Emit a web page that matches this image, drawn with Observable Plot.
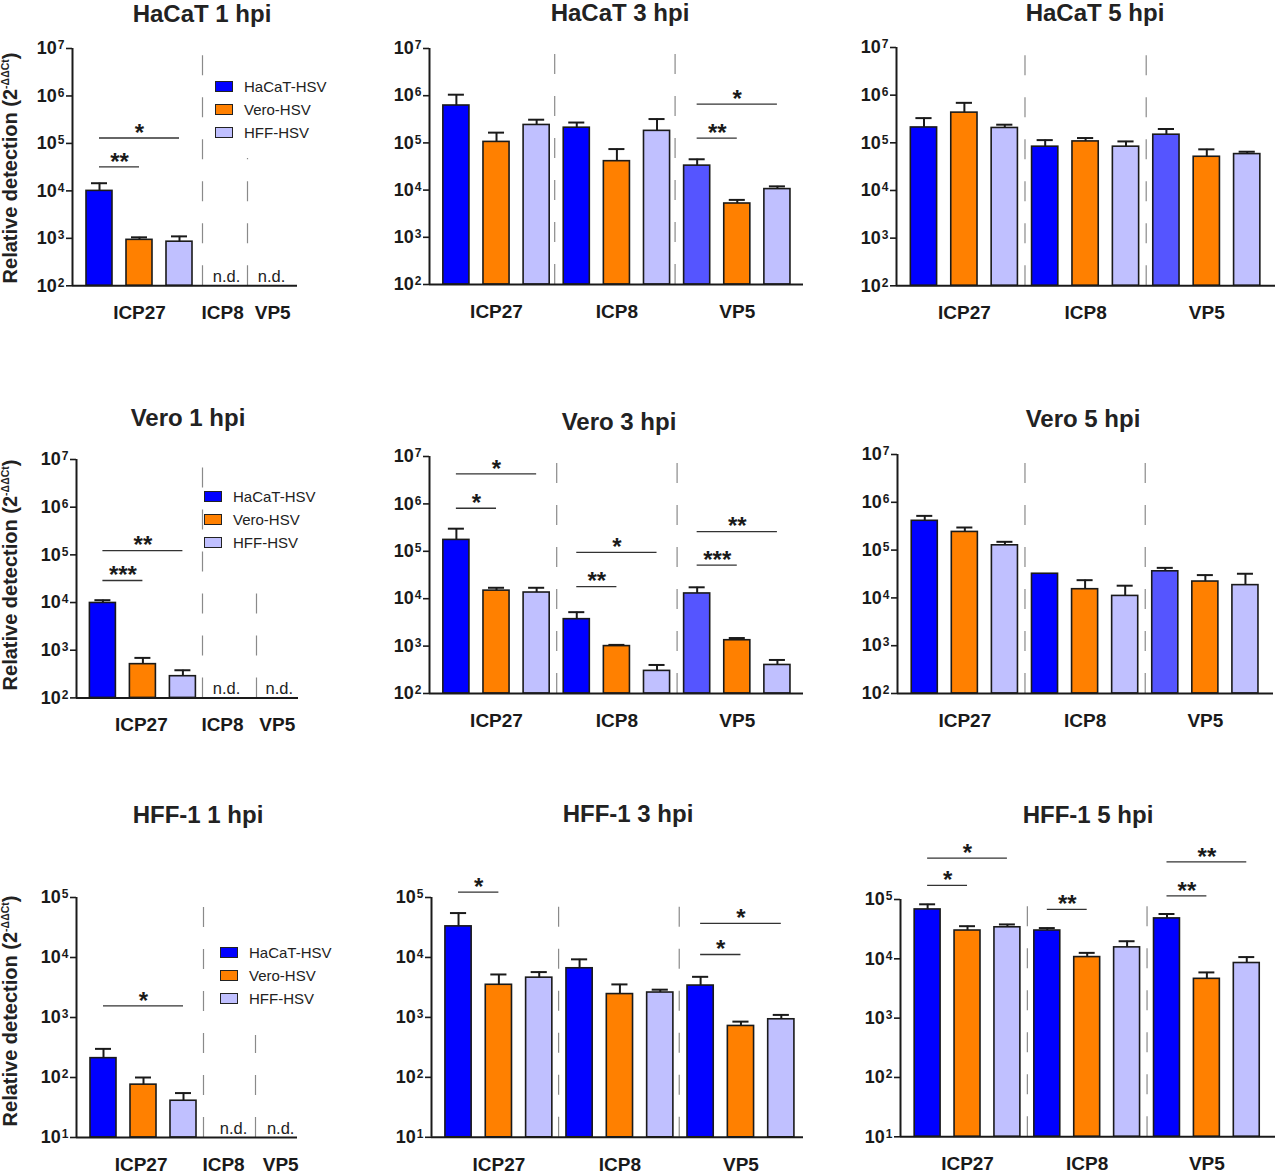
<!DOCTYPE html>
<html><head><meta charset="utf-8">
<script src="https://cdn.jsdelivr.net/npm/d3@7"></script>
<script src="https://cdn.jsdelivr.net/npm/@observablehq/plot@0.6"></script>
<style>
body{margin:0;background:#fff;font-family:"Liberation Sans",Arial,sans-serif;}
#root{position:relative;width:1280px;height:1174px;overflow:hidden;background:#fff}
.panel{position:absolute}
.panel svg{overflow:visible}
.title{position:absolute;font-weight:bold;font-size:24px;color:#222;transform:translate(-50%,-50%);white-space:nowrap}
.ylab{position:absolute;font-weight:bold;font-size:20px;color:#222;transform:translate(-50%,-50%) rotate(-90deg);white-space:nowrap}
.ylab sup{font-size:10.5px;vertical-align:8px}
.legend{position:absolute;font-size:15px;color:#222;background:#fff;padding-right:4px}
.legend .row{display:flex;align-items:center;height:23px;white-space:nowrap}
.legend .sw{display:inline-block;width:16px;height:9px;border:1.4px solid #222;margin-right:11px}
</style></head><body><div id="root"></div><script>
// ---------- data ----------
const genes = ["ICP27", "ICP8", "VP5"];
const strains = ["HaCaT-HSV", "Vero-HSV", "HFF-HSV"];
const strainColors = ["#0000ff", "#ff8000", "#c0c0ff"];
const lighterVP5Colour = "#5555ff";
const lighterVP5Panels = ["HaCaT 3 hpi", "HaCaT 5 hpi", "Vero 3 hpi", "Vero 5 hpi"];
const panelTitles = ["HaCaT 1 hpi", "HaCaT 3 hpi", "HaCaT 5 hpi",
                     "Vero 1 hpi", "Vero 3 hpi", "Vero 5 hpi",
                     "HFF-1 1 hpi", "HFF-1 3 hpi", "HFF-1 5 hpi"];
const yTicksHigh = [1e2, 1e3, 1e4, 1e5, 1e6, 1e7];
const yTicksLow = [1e1, 1e2, 1e3, 1e4, 1e5];
const yLabelMain = "Relative detection (2";
const yLabelSup = "-ΔΔCt";
const notDetected = "n.d.";

// order: ICP27 (HaCaT, Vero, HFF), ICP8 (HaCaT, Vero, HFF), VP5 (HaCaT, Vero, HFF); null = n.d.
const meanHaCaT1 = [1.0e4, 930, 850, null, null, null, null, null, null];
const errHaCaT1  = [1.45e4, 1050, 1100, null, null, null, null, null, null];
const sigHaCaT1  = [["ICP27", "Vero-HSV", 3.2e4, "**"], ["ICP27", "HFF-HSV", 1.3e5, "*"]];

const meanHaCaT3 = [6.2e5, 1.05e5, 2.4e5, 2.1e5, 4.1e4, 1.8e5, 3.3e4, 5.2e3, 1.05e4];
const errHaCaT3  = [1.05e6, 1.65e5, 3.1e5, 2.7e5, 7.4e4, 3.2e5, 4.5e4, 6.2e3, 1.2e4];
const sigHaCaT3  = [["VP5", "Vero-HSV", 1.26e5, "**"], ["VP5", "HFF-HSV", 6.6e5, "*"]];

const meanHaCaT5 = [2.1e5, 4.3e5, 2.05e5, 8.3e4, 1.07e5, 8.3e4, 1.48e5, 5.1e4, 5.8e4];
const errHaCaT5  = [3.3e5, 6.9e5, 2.4e5, 1.14e5, 1.26e5, 1.07e5, 1.95e5, 7.3e4, 6.5e4];
const sigHaCaT5  = [];

const meanVero1 = [9.8e3, 510, 285, null, null, null, null, null, null];
const errVero1  = [1.12e4, 690, 380, null, null, null, null, null, null];
const sigVero1  = [["ICP27", "Vero-HSV", 2.9e4, "***"], ["ICP27", "HFF-HSV", 1.23e5, "**"]];

const meanVero3 = [1.74e5, 1.48e4, 1.35e4, 3.7e3, 1.0e3, 300, 1.29e4, 1.33e3, 400];
const errVero3  = [3.0e5, 1.7e4, 1.7e4, 5.2e3, 1.06e3, 400, 1.74e4, 1.48e3, 510];
const sigVero3  = [["ICP27", "Vero-HSV", 8.1e5, "*"], ["ICP27", "HFF-HSV", 4.3e6, "*"],
                   ["ICP8", "Vero-HSV", 1.8e4, "**"], ["ICP8", "HFF-HSV", 9.5e4, "*"],
                   ["VP5", "Vero-HSV", 5.1e4, "***"], ["VP5", "HFF-HSV", 2.6e5, "**"]];

const meanVero5 = [4.1e5, 2.4e5, 1.26e5, 3.2e4, 1.52e4, 1.1e4, 3.6e4, 2.2e4, 1.85e4];
const errVero5  = [5.2e5, 2.97e5, 1.49e5, 3.2e4, 2.35e4, 1.8e4, 4.25e4, 3.0e4, 3.2e4];
const sigVero5  = [];

const meanHFF1 = [210, 76, 41, null, null, null, null, null, null];
const errHFF1  = [300, 100, 55, null, null, null, null, null, null];
const sigHFF1  = [["ICP27", "HFF-HSV", 1.56e3, "*"]];

const meanHFF3 = [3.3e4, 3.5e3, 4.6e3, 6.6e3, 2.45e3, 2.6e3, 3.4e3, 720, 930];
const errHFF3  = [5.5e4, 5.2e3, 5.7e3, 9.3e3, 3.55e3, 2.9e3, 4.75e3, 850, 1.1e3];
const sigHFF3  = [["ICP27", "Vero-HSV", 1.23e5, "*"], ["VP5", "Vero-HSV", 1.12e4, "*"], ["VP5", "HFF-HSV", 3.7e4, "*"]];

const meanHFF5 = [6.8e4, 3.0e4, 3.4e4, 3.0e4, 1.07e4, 1.56e4, 4.8e4, 4.6e3, 8.5e3];
const errHFF5  = [8.3e4, 3.55e4, 3.8e4, 3.3e4, 1.26e4, 1.98e4, 5.7e4, 5.9e3, 1.07e4];
const sigHFF5  = [["ICP27", "Vero-HSV", 1.73e5, "*"], ["ICP27", "HFF-HSV", 5.0e5, "*"],
                  ["ICP8", "Vero-HSV", 6.8e4, "**"],
                  ["VP5", "Vero-HSV", 1.15e5, "**"], ["VP5", "HFF-HSV", 4.3e5, "**"]];

const panelMeans = [meanHaCaT1, meanHaCaT3, meanHaCaT5, meanVero1, meanVero3, meanVero5, meanHFF1, meanHFF3, meanHFF5];
const panelErrs  = [errHaCaT1, errHaCaT3, errHaCaT5, errVero1, errVero3, errVero5, errHFF1, errHFF3, errHFF5];
const panelSigs  = [sigHaCaT1, sigHaCaT3, sigHaCaT5, sigVero1, sigVero3, sigVero5, sigHFF1, sigHFF3, sigHFF5];

// ---------- layout (positions only) ----------
const layout = [
  {ax: 72,  ex: 297,  ty: 47.7,  by: 285,   dom: [-0.675, 4.95], seps: [2.575, 3.7], lab: [1, 3.08, 4.33], nd: [3.175, 4.3], tx: 202, tyc: 14, legend: [215, 87, 158]},
  {ax: 429, ex: 803,  ty: 48,    by: 284,   dom: [-0.67, 8.65],  seps: [2.45, 5.45], lab: [1, 4, 7], tx: 620, tyc: 13},
  {ax: 896, ex: 1275, ty: 46.7,  by: 285,   dom: [-0.68, 8.7],   seps: [2.5, 5.5],   lab: [1, 4, 7], tx: 1095, tyc: 13},
  {ax: 76,  ex: 298,  ty: 459.3, by: 697.7, dom: [-0.66, 4.89],  seps: [2.49, 3.84], lab: [0.96, 2.99, 4.36], nd: [3.09, 4.41], tx: 188, tyc: 418, legend: [204, 497, 575]},
  {ax: 429, ex: 803,  ty: 456,   by: 693,   dom: [-0.67, 8.65],  seps: [2.5, 5.5],   lab: [1, 4, 7], tx: 619, tyc: 422},
  {ax: 897, ex: 1273, ty: 454,   by: 693,   dom: [-0.68, 8.7],   seps: [2.5, 5.5],   lab: [1, 4, 7], tx: 1083, tyc: 419},
  {ax: 76,  ex: 297,  ty: 896.7, by: 1136.7,dom: [-0.675, 4.85], seps: [2.5, 3.8],   lab: [0.94, 3.0, 4.43], nd: [3.25, 4.43], tx: 198, tyc: 815, legend: [220, 953, 1035]},
  {ax: 431, ex: 803,  ty: 896.7, by: 1136.5,dom: [-0.67, 8.55],  seps: [2.48, 5.47], lab: [1, 4, 7], tx: 628, tyc: 814},
  {ax: 900, ex: 1275, ty: 898.7, by: 1136,  dom: [-0.68, 8.72],  seps: [2.5, 5.5],   lab: [1, 4, 7], tx: 1088, tyc: 815},
];
const yLabelCentres = [168, 575, 1011];

const ML = 70, MR = 4, MT = 70, MB = 45;
const ink = "#1a1a1a";
const font = "'Liberation Sans', Arial, sans-serif";
const supDigits = "⁰¹²³⁴⁵⁶⁷⁸⁹";
const svgNS = "http://www.w3.org/2000/svg";
const root = document.getElementById("root");

panelTitles.forEach((title, p) => {
  const L = layout[p];
  const means = panelMeans[p], errs = panelErrs[p];
  const ticks = p >= 6 ? yTicksLow : yTicksHigh;
  const yMin = ticks[0], yMax = ticks[ticks.length - 1];
  const rows = [];
  means.forEach((m, k) => {
    if (m == null) return;
    const g = Math.floor(k / 3), s = k % 3;
    let color = strainColors[s];
    if (g === 2 && s === 0 && lighterVP5Panels.includes(title)) color = lighterVP5Colour;
    rows.push({gene: genes[g], strain: strains[s], slot: g * 3 + s, mean: m, err: errs[k], color});
  });
  const ndRows = [];
  genes.forEach((g, gi) => {
    const vals = means.slice(gi * 3, gi * 3 + 3);
    if (vals.every(v => v == null)) ndRows.push({gene: g, x: L.nd[gi - 1]});
  });
  const sigRows = panelSigs[p].map(([g, s, y, label]) => {
    const gi = genes.indexOf(g);
    return {x1: gi * 3, x2: gi * 3 + strains.indexOf(s), y, label};
  });

  const width = (L.ex - L.ax) + ML + MR;
  const height = (L.by - L.ty) + MT + MB;
  const chart = Plot.plot({
    width, height,
    marginLeft: ML, marginRight: MR, marginTop: MT, marginBottom: MB,
    x: {type: "linear", domain: L.dom, axis: null},
    y: {type: "log", domain: [yMin, yMax], axis: null},
    style: {fontFamily: font, color: ink, background: "transparent", overflow: "visible"},
    marks: [
      Plot.ruleX(L.seps, {x: d => d, y1: yMin, y2: yMax, stroke: "#8a8a8a", strokeWidth: 1.2, strokeDasharray: "20,22"}),
      Plot.rectY(rows, {x1: d => d.slot - 0.325, x2: d => d.slot + 0.325, y1: yMin, y2: "mean", fill: "color", stroke: ink, strokeWidth: 1.6}),
      Plot.ruleX(rows.filter(d => d.err > d.mean), {x: "slot", y1: "mean", y2: "err", stroke: ink, strokeWidth: 2}),
      Plot.ruleY(rows.filter(d => d.err > d.mean), {y: "err", x1: d => d.slot - 0.2, x2: d => d.slot + 0.2, stroke: ink, strokeWidth: 2}),
      Plot.ruleY(sigRows, {y: "y", x1: "x1", x2: "x2", stroke: "#333", strokeWidth: 1.3}),
      Plot.text(sigRows, {x: d => (d.x1 + d.x2) / 2, y: "y", text: "label", fontSize: 24, fontWeight: "bold", lineAnchor: "middle", dy: -5, fill: ink}),
      Plot.text(ndRows, {x: "x", y: yMin, text: () => notDetected, lineAnchor: "bottom", dy: -4, fontSize: 16.5, fill: "#222"}),
      Plot.ruleY([yMin], {stroke: ink, strokeWidth: 2}),
      Plot.ruleX([L.dom[0]], {y1: yMin, y2: yMax, stroke: ink, strokeWidth: 2}),
      Plot.axisY({ticks, tickFormat: d => "10" + supDigits[Math.round(Math.log10(d))], tickSize: 6, tickPadding: 2, fontSize: 18, fontWeight: "bold", strokeWidth: 1.6}),
      Plot.axisX({ticks: L.lab, tickFormat: d => genes[L.lab.indexOf(d)], tickSize: 0, tickPadding: 20, fontSize: 19, fontWeight: "bold"})
    ]
  });
  // render the exponent of each "10ⁿ" tick label as a proper superscript
  d3.select(chart).selectAll("text").each(function () {
    const m = this.textContent.match(/^10([⁰¹²³⁴⁵⁶⁷⁸⁹])$/);
    if (!m) return;
    const e = supDigits.indexOf(m[1]);
    this.textContent = "10";
    const ts = document.createElementNS(svgNS, "tspan");
    ts.setAttribute("font-size", "12");
    ts.setAttribute("dy", "-5");
    ts.setAttribute("dx", "1");
    ts.textContent = String(e);
    this.appendChild(ts);
  });
  const div = document.createElement("div");
  div.className = "panel";
  div.style.left = (L.ax - ML) + "px";
  div.style.top = (L.ty - MT) + "px";
  div.appendChild(chart);
  root.appendChild(div);

  const t = document.createElement("div");
  t.className = "title";
  t.textContent = title;
  t.style.left = L.tx + "px";
  t.style.top = L.tyc + "px";
  root.appendChild(t);

  if (L.legend) {
    const lg = document.createElement("div");
    lg.className = "legend";
    lg.style.left = L.legend[0] + "px";
    lg.style.top = L.ty + "px";
    lg.style.paddingTop = (L.legend[1] - 11.5 - L.ty) + "px";
    lg.style.height = (L.legend[2] - L.ty) + "px";
    lg.style.boxSizing = "border-box";
    strains.forEach((s, i) => {
      const r = document.createElement("div");
      r.className = "row";
      const sw = document.createElement("span");
      sw.className = "sw";
      sw.style.background = strainColors[i];
      r.appendChild(sw);
      r.appendChild(document.createTextNode(s));
      lg.appendChild(r);
    });
    root.appendChild(lg);
  }
});

yLabelCentres.forEach(cy => {
  const d = document.createElement("div");
  d.className = "ylab";
  d.style.left = "10px";
  d.style.top = cy + "px";
  d.innerHTML = yLabelMain + "<sup>" + yLabelSup + "</sup>)";
  root.appendChild(d);
});
</script></body></html>
